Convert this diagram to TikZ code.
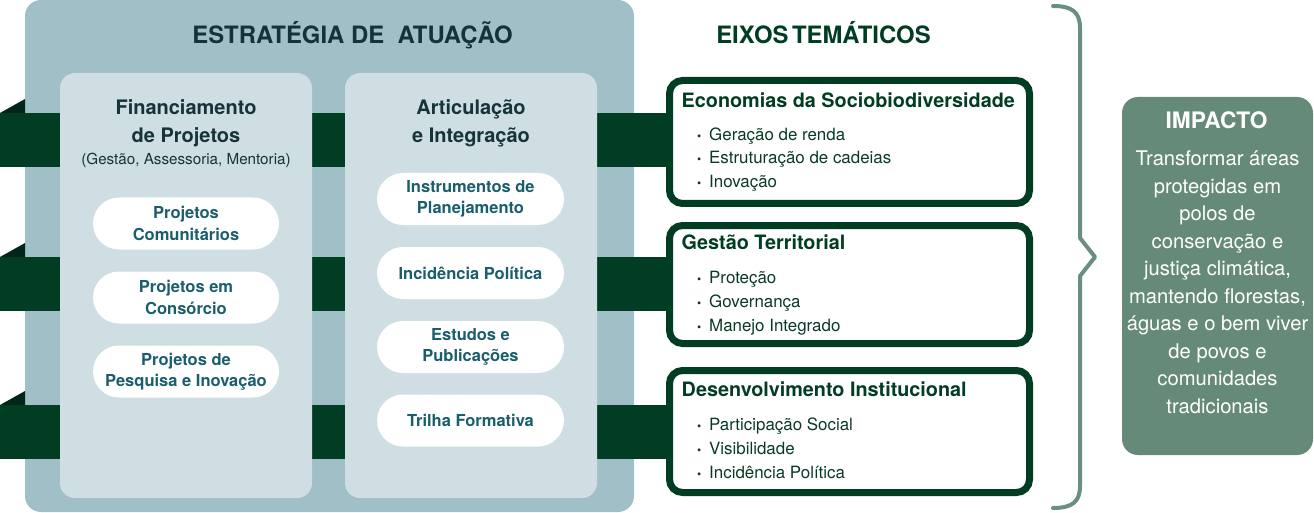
\documentclass[tikz,border=0pt]{standalone}
\usepackage{fontspec}
\setmainfont{TeX Gyre Heros}
\usetikzlibrary{calc}
\pgfdeclarelayer{back}
\pgfdeclarelayer{mid}
\pgfsetlayers{back,mid,main}
\definecolor{outerc}{HTML}{A1BFC6}
\definecolor{innerc}{HTML}{CFDEE3}
\definecolor{bandc}{HTML}{003D22}
\definecolor{foldc}{HTML}{00261A}
\definecolor{headc}{HTML}{10343A}
\definecolor{subc}{HTML}{17333A}
\definecolor{pilltxt}{HTML}{1A5E6E}
\definecolor{itemc}{HTML}{0A3A25}
\definecolor{impc}{HTML}{668A78}
\definecolor{bracec}{HTML}{6B8F7E}
\begin{document}
\begin{tikzpicture}[x=1pt,y=-1pt,
  outerbox/.style={fill=outerc, draw=none, rounded corners=16pt, minimum width=609pt, minimum height=512pt, inner sep=0pt},
  innerbox/.style={fill=innerc, draw=none, rounded corners=15pt, minimum width=252pt, minimum height=425pt, inner sep=0pt},
  head/.style={anchor=base, inner sep=0pt, font=\fontsize{23.9}{24}\selectfont\bfseries},
  boxtitle/.style={anchor=north, inner sep=0pt, align=center, text=subc, font=\fontsize{20}{28}\selectfont\bfseries},
  subt/.style={anchor=base, inner sep=0pt, text=subc, font=\fontsize{15.2}{15.2}\selectfont},
  pill/.style={fill=white, draw=none, rounded corners=26pt, minimum width=186pt, minimum height=52pt, inner sep=0pt, align=center, text=pilltxt, font=\fontsize{16.5}{21.5}\selectfont\bfseries},
  eixo/.style={draw=bandc, line width=7pt, fill=white, rounded corners=13pt, minimum width=360pt, inner sep=0pt},
  eixotitle/.style={anchor=base west, inner sep=0pt, text=bandc, font=\fontsize{19.8}{19.8}\selectfont\bfseries},
  item/.style={anchor=base west, inner sep=0pt, text=itemc, font=\fontsize{16.9}{16.9}\selectfont},
  band/.style={draw=bandc, line width=54pt},
  fold/.style={fill=foldc, draw=none},
  impbox/.style={fill=impc, draw=none, rounded corners=16pt, minimum width=191pt, minimum height=358pt, inner sep=0pt},
  imptext/.style={anchor=north, inner sep=0pt, align=center, text=white, font=\fontsize{20.2}{27.5}\selectfont},
  brace/.style={draw=bracec, line width=4pt, line join=round, line cap=round}
]
\useasboundingbox (0,0) rectangle (1314,513);

% outer frame
\begin{pgfonlayer}{back}
\node[outerbox] (outer) at (329.5,256) {};
\end{pgfonlayer}

% headings
\node[head, text=headc] (estr) at (352.5,44) {ESTRATÉGIA DE~ ATUAÇÃO};
\node[head, text=bandc] (eixh) at (823.5,44) {{\spaceskip=3.5pt EIXOS TEMÁTICOS}};

% inner columns
\node[innerbox] (fin) at (186,285.5) {};
\node[innerbox] (art) at (471,285.5) {};

\node[boxtitle] (fint) at (186,99.6) {Financiamento\\de Projetos};
\node[subt] (fins) at (186,165) {(Gestão, Assessoria, Mentoria)};
\node[boxtitle] (artt) at (471,99.6) {Articulação\\e Integração};

% pills column 1
\node[pill] (p1) at (186,223.5) {Projetos\\Comunitários};
\node[pill] (p2) at (186,297.5) {Projetos em\\Consórcio};
\node[pill] (p3) at (186,371.5) {Projetos de\\Pesquisa e Inovação};

% pills column 2
\node[pill, minimum width=187pt] (q1) at (470.5,199) {Instrumentos de\\Planejamento};
\node[pill, minimum width=187pt] (q2) at (470.5,273) {Incidência Política};
\node[pill, minimum width=187pt] (q3) at (470.5,347) {Estudos e\\Publicações};
\node[pill, minimum width=187pt] (q4) at (470.5,420.5) {Trilha Formativa};

% thematic boxes
\node[eixo, minimum height=123pt] (eco) at (849.5,142) {};
\node[eixo, minimum height=118pt] (ges) at (849.5,284.5) {};
\node[eixo, minimum height=122pt] (des) at (849.5,431.5) {};

\node[eixotitle] (eco-t) at ($(eco.north west)+(15.5,30.5)$) {Economias da Sociobiodiversidade};
\node[item] (eco-1) at ($(eco.north west)+(43,63.5)$) {\llap{\fontsize{12}{12}\selectfont•\hspace{8pt}}Geração de renda};
\node[item] (eco-2) at ($(eco.north west)+(43,87)$) {\llap{\fontsize{12}{12}\selectfont•\hspace{8pt}}Estruturação de cadeias};
\node[item] (eco-3) at ($(eco.north west)+(43,110.5)$) {\llap{\fontsize{12}{12}\selectfont•\hspace{8pt}}Inovação};

\node[eixotitle] (ges-t) at ($(ges.north west)+(15.5,27.5)$) {Gestão Territorial};
\node[item] (ges-1) at ($(ges.north west)+(43,61)$) {\llap{\fontsize{12}{12}\selectfont•\hspace{8pt}}Proteção};
\node[item] (ges-2) at ($(ges.north west)+(43,85)$) {\llap{\fontsize{12}{12}\selectfont•\hspace{8pt}}Governança};
\node[item] (ges-3) at ($(ges.north west)+(43,109)$) {\llap{\fontsize{12}{12}\selectfont•\hspace{8pt}}Manejo Integrado};

\node[eixotitle] (des-t) at ($(des.north west)+(15.5,29)$) {Desenvolvimento Institucional};
\node[item] (des-1) at ($(des.north west)+(43,63)$) {\llap{\fontsize{12}{12}\selectfont•\hspace{8pt}}Participação Social};
\node[item] (des-2) at ($(des.north west)+(43,87)$) {\llap{\fontsize{12}{12}\selectfont•\hspace{8pt}}Visibilidade};
\node[item] (des-3) at ($(des.north west)+(43,111)$) {\llap{\fontsize{12}{12}\selectfont•\hspace{8pt}}Incidência Política};

% bands
\coordinate (b1) at (0,140);
\coordinate (b2) at (0,284);
\coordinate (b3) at (0,432);
\begin{pgfonlayer}{mid}
\draw[band] (b1) -- (b1 -| eco.center);
\draw[band] (b2) -- (b2 -| ges.center);
\draw[band] (b3) -- (b3 -| des.center);
\fill[fold] (0,113) -- (25,113) -- (25,99) -- cycle;
\fill[fold] (0,257) -- (25,257) -- (25,243) -- cycle;
\fill[fold] (0,405) -- (25,405) -- (25,391) -- cycle;
\end{pgfonlayer}

% brace
\coordinate (brtop) at (1053,6);
\coordinate (brtip) at (1095,257);
\coordinate (brbot) at (1053,508);
\draw[brace] (brtop) .. controls (1072,6) and (1080,12) .. (1080,28) -- (1080,238) -- (brtip) -- (1080,276) -- (1080,486) .. controls (1080,502) and (1072,508) .. (brbot);

% impact
\node[impbox] (imp) at (1217.5,276) {};
\node[head, text=white, font=\fontsize{22.7}{22.7}\selectfont\bfseries] (imp-t) at (1216.5,129) {IMPACTO};
\node[imptext] (imp-x) at (1217.5,150.8) {Transformar áreas\\protegidas em\\polos de\\conservação e\\justiça climática,\\mantendo florestas,\\águas e o bem viver\\de povos e\\comunidades\\tradicionais};
\end{tikzpicture}
\end{document}
